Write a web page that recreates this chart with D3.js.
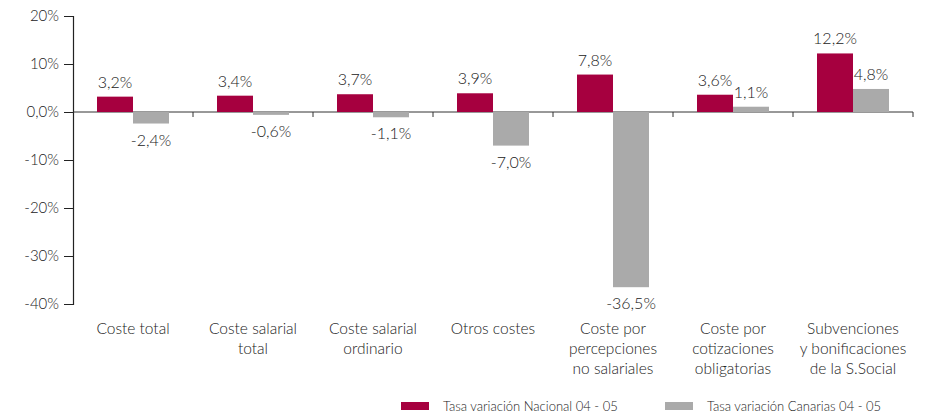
<!DOCTYPE html>
<html>
<head>
<meta charset="utf-8">
<script src="https://cdn.jsdelivr.net/npm/d3@7"></script>
<style>
  body { margin: 0; background: #fff; }
  svg text { font-family: Lato, "Open Sans", sans-serif; font-weight: 300; fill: #222; }
</style>
</head>
<body>
<div id="chart"></div>
<script>
// categories and series
const categories = [
  ["Coste total"],
  ["Coste salarial", "total"],
  ["Coste salarial", "ordinario"],
  ["Otros costes"],
  ["Coste por", "percepciones", "no salariales"],
  ["Coste por", "cotizaciones", "obligatorias"],
  ["Subvenciones", "y bonificaciones", "de la S.Social"]
];
const nacional = [3.2, 3.4, 3.7, 3.9, 7.8, 3.6, 12.2];
const canarias = [-2.4, -0.6, -1.1, -7.0, -36.5, 1.1, 4.8];
const seriesNames = ["Tasa variación Nacional 04 - 05", "Tasa variación Canarias 04 - 05"];
const yTicks = [20, 10, 0, -10, -20, -30, -40];

const colors = ["#a6003f", "#aaaaaa"];
const fmt = v => v.toFixed(1).replace(".", ",") + "%";

var svg = d3.select("#chart").append("svg")
  .attr("width", 925).attr("height", 416);

var x = d3.scaleBand().domain(d3.range(categories.length)).range([73, 913]);
var xs = d3.scaleBand().domain([0, 1]).range([0, 72]);
var y = d3.scaleLinear().domain([-40, 20]).range([304, 16]);

// y axis
var yAxis = svg.append("g")
  .attr("transform", "translate(73,0)")
  .call(d3.axisLeft(y).tickValues(yTicks).tickSize(9).tickPadding(5)
    .tickFormat(d => d === 0 ? "0,0%" : d + "%"));
yAxis.select(".domain").attr("stroke", "#222").attr("stroke-width", 1.2);
yAxis.selectAll(".tick line").attr("stroke", "#222");
yAxis.selectAll(".tick text").style("font-size", "15px").attr("fill", "#222");

// x axis line at zero with ticks at category boundaries
var xAxis = svg.append("g").attr("transform", "translate(0," + y(0) + ")");
xAxis.append("line").attr("x1", 73).attr("x2", 913)
  .attr("stroke", "#333").attr("stroke-width", 1);
xAxis.selectAll("line.tk").data(d3.range(1, categories.length + 1)).enter()
  .append("line").attr("class", "tk")
  .attr("x1", i => x(i - 1) + x.bandwidth()).attr("x2", i => x(i - 1) + x.bandwidth())
  .attr("y1", 0).attr("y2", 5).attr("stroke", "#333");

// bars
var series = [nacional, canarias];
series.forEach(function (vals, s) {
  var g = svg.append("g");
  g.selectAll("rect").data(vals).enter().append("rect")
    .attr("x", (d, i) => x(i) + 24 + xs(s))
    .attr("width", xs.bandwidth())
    .attr("y", d => y(Math.max(0, d)))
    .attr("height", d => Math.abs(y(d) - y(0)))
    .attr("fill", colors[s]);
  g.selectAll("text").data(vals).enter().append("text")
    .attr("x", (d, i) => x(i) + 24 + xs(s) + xs.bandwidth() / 2)
    .attr("y", d => d >= 0 ? y(d) - 9 : y(d) + 22)
    .attr("text-anchor", "middle")
    .style("font-size", "16px")
    .text(d => fmt(d));
});

// category labels
var cat = svg.append("g").selectAll("text").data(categories).enter().append("text")
  .attr("x", (d, i) => x(i) + x.bandwidth() / 2)
  .attr("y", 334)
  .attr("text-anchor", "middle")
  .style("font-size", "15.5px");
cat.selectAll("tspan").data(d => d).enter().append("tspan")
  .attr("x", function () { return d3.select(this.parentNode).attr("x"); })
  .attr("dy", (d, i) => i === 0 ? 0 : 20)
  .text(d => d);

// legend
var legendX = [401, 665];
var lg = svg.append("g").selectAll("g").data(seriesNames).enter().append("g")
  .attr("transform", (d, i) => "translate(" + legendX[i] + ",402)");
lg.append("rect").attr("width", 28).attr("height", 8).attr("fill", (d, i) => colors[i]);
lg.append("text").attr("x", 42).attr("y", 9).style("font-size", "13px").text(d => d);
</script>
</body>
</html>
